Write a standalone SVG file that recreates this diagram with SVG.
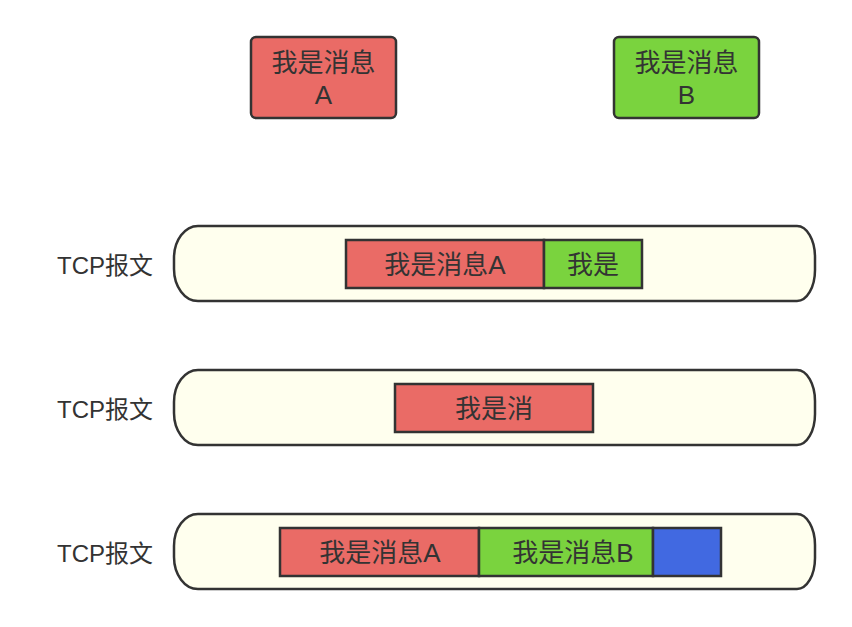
<svg xmlns="http://www.w3.org/2000/svg" width="852" height="627" viewBox="0 0 852 627">
<style>
.t{font-family:"Liberation Sans","Noto Sans CJK SC",sans-serif;fill:#333;text-anchor:middle;dominant-baseline:central}
.lb{font-size:24px}
.bx{font-size:26px}
.red{fill:#EA6B66;stroke:#333;stroke-width:2.5}
.grn{fill:#7AD33E;stroke:#333;stroke-width:2.5}
.blu{fill:#4169E1;stroke:#333;stroke-width:2.5}
.cap{fill:#FFFFEE;stroke:#333;stroke-width:2.5}
</style>
<defs>
<path id="capsule" d="M198,0 H797 A18,31 0 0 1 815,31 V44 A18,31 0 0 1 797,75 H198 A24,32 0 0 1 174,43 V32 A24,32 0 0 1 198,0 Z"/>
</defs>
<rect width="852" height="627" fill="#fff"/>
<g id="msgA">
<rect class="red" x="251" y="37" width="145" height="81" rx="5"/>
<text class="t bx" x="323.5" y="63">我是消息</text>
<text class="t bx" x="323.5" y="95">A</text>
</g>
<g id="msgB">
<rect class="grn" x="614" y="37" width="145" height="81" rx="5"/>
<text class="t bx" x="686.5" y="63">我是消息</text>
<text class="t bx" x="686.5" y="95">B</text>
</g>
<g id="row1">
<text class="t lb" x="105" y="265">TCP报文</text>
<use href="#capsule" class="cap" y="226"/>
<rect class="red" x="346" y="240" width="198" height="48"/>
<text class="t bx" x="445" y="265">我是消息A</text>
<rect class="grn" x="544" y="240" width="98" height="48"/>
<text class="t bx" x="593" y="265">我是</text>
</g>
<g id="row2">
<text class="t lb" x="105" y="409">TCP报文</text>
<use href="#capsule" class="cap" y="370"/>
<rect class="red" x="395" y="384" width="198" height="48"/>
<text class="t bx" x="494" y="409">我是消</text>
</g>
<g id="row3">
<text class="t lb" x="105" y="553">TCP报文</text>
<use href="#capsule" class="cap" y="514"/>
<rect class="red" x="280" y="528" width="199" height="48"/>
<text class="t bx" x="380" y="553">我是消息A</text>
<rect class="grn" x="479" y="528" width="174" height="48"/>
<text class="t bx" x="573" y="553">我是消息B</text>
<rect class="blu" x="653" y="528" width="68" height="48"/>
</g>
<g id="connectors"/>
</svg>
